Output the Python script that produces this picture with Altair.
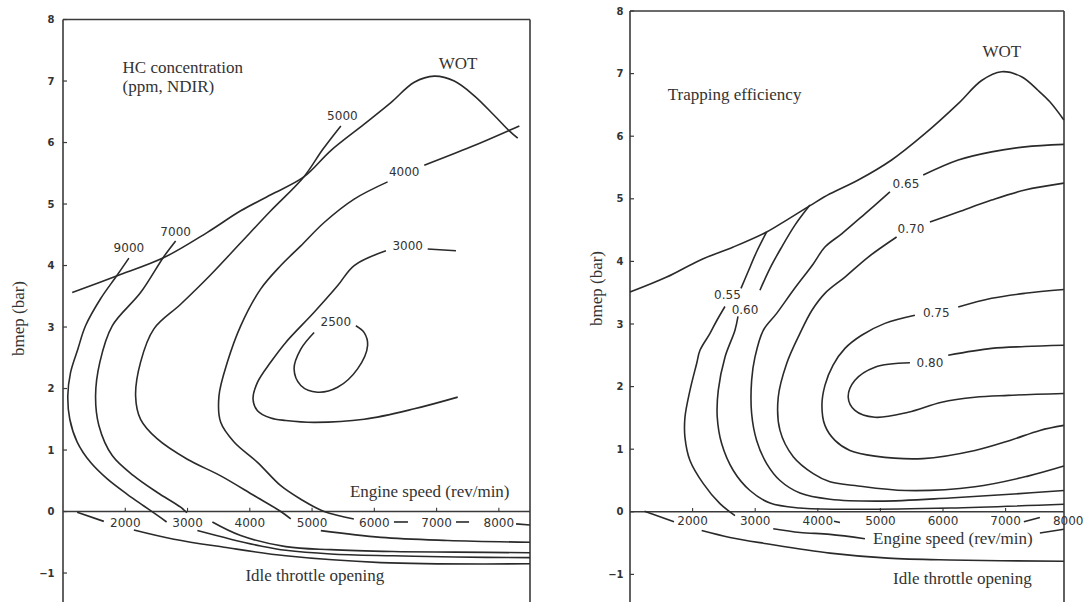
import altair as alt
import pandas as pd

# ---------------------------------------------------------------
# Left map: HC concentration (ppm, NDIR); engine speed rev/min vs bmep bar
# every entry is one drawn piece of a curve: (rpm values, bmep values)
# ---------------------------------------------------------------
HC_PIECES = {
    "wot": ([1148, 1860, 2621, 3319, 3854, 4337, 4867, 5301, 5837, 6266, 6641, 6963, 7284, 7606, 7927, 8168, 8303],
            [3.56, 3.83, 4.13, 4.54, 4.89, 5.15, 5.44, 5.87, 6.30, 6.65, 6.98, 7.08, 7.00, 6.76, 6.44, 6.19, 6.07]),
    "9000": ([2058, 1860, 1603, 1362, 1238, 1121, 1077, 1109, 1228, 1442, 1711, 2032, 2299, 2540, 2664],
             [4.12, 3.83, 3.46, 3.02, 2.64, 2.26, 1.88, 1.50, 1.13, 0.80, 0.53, 0.28, 0.09, -0.08, -0.17]),
    "9000_low": ([3158, 3693, 4176, 4578, 5300, 6300, 7300, 8500],
                 [-0.31, -0.45, -0.56, -0.63, -0.69, -0.72, -0.74, -0.75]),
    "7000": ([2809, 2616, 2246, 1791, 1592, 1523, 1576, 1791, 2138, 2515, 2889, 2990],
             [4.40, 4.14, 3.56, 3.02, 2.43, 1.88, 1.40, 0.91, 0.58, 0.31, 0.07, -0.02]),
    "7000_low": ([3399, 3854, 4578, 5300, 6300, 7300, 8500],
                 [-0.17, -0.39, -0.57, -0.62, -0.65, -0.66, -0.67]),
    "5000": ([5462, 5173, 4867, 4337, 3854, 3372, 2889, 2460, 2246, 2166, 2246, 2515, 2997, 3533, 4068, 4497, 4658],
             [6.27, 5.89, 5.44, 4.89, 4.37, 3.85, 3.37, 2.97, 2.43, 1.88, 1.50, 1.18, 0.85, 0.58, 0.26, 0.00, -0.12]),
    "5000_low": ([5141, 6105, 7178, 8500], [-0.31, -0.42, -0.47, -0.50]),
    "4000_right": ([6802, 7553, 8329], [5.63, 5.93, 6.27]),
    "4000": ([6213, 5676, 5194, 4819, 4497, 4176, 3854, 3640, 3505, 3533, 3747, 4123, 4497, 4819, 5194, 5671],
             [5.36, 5.08, 4.70, 4.32, 4.00, 3.62, 3.02, 2.43, 1.88, 1.45, 1.13, 0.80, 0.42, 0.20, 0.00, -0.12]),
    "4000_d1": ([6315, 6540], [-0.17, -0.17]),
    "4000_d2": ([7311, 7521], [-0.17, -0.17]),
    "4000_d3": ([8276, 8500], [-0.20, -0.22]),
    "3000_right": ([6857, 7311], [4.27, 4.24]),
    "3000": ([6186, 5676, 5409, 5033, 4578, 4337, 4123, 4052, 4123, 4337, 4578, 5033, 5837, 6641, 7339],
             [4.24, 4.00, 3.67, 3.24, 2.75, 2.43, 2.10, 1.83, 1.64, 1.52, 1.48, 1.45, 1.50, 1.67, 1.86]),
    "2500": ([5033, 4819, 4711, 4819, 5088, 5409, 5731, 5892, 5837, 5703],
             [2.91, 2.64, 2.32, 2.05, 1.94, 2.02, 2.32, 2.70, 2.91, 3.02]),
    "idle_a": ([1228, 1656], [-0.01, -0.16]),
    "idle_b": ([2138, 2782, 3586, 4578, 6105, 8500], [-0.30, -0.45, -0.58, -0.72, -0.83, -0.85]),
}
HC_LEVEL_TEXT = ["9000", "7000", "5000", "4000", "3000", "2500"]
HC_LEVEL_RPM = [2058, 2809, 5487, 6480, 6535, 5382]
HC_LEVEL_BMEP = [4.28, 4.55, 6.43, 5.52, 4.31, 3.08]

# ---------------------------------------------------------------
# Right map: trapping efficiency
# ---------------------------------------------------------------
TE_PIECES = {
    "wot": ([1000, 1586, 2118, 2650, 3183, 3502, 3875, 4194, 4646, 5179, 5711, 6243, 6617, 6936, 7255, 7521, 7707, 7931],
            [3.51, 3.75, 4.02, 4.23, 4.47, 4.66, 4.89, 5.08, 5.30, 5.62, 6.04, 6.52, 6.89, 7.03, 6.95, 6.73, 6.55, 6.26]),
    "0.55_top": ([3183, 3012, 2884, 2773], [4.47, 4.13, 3.83, 3.57]),
    "0.55": ([2517, 2389, 2278, 2118, 2065, 1958, 1878, 1878, 1958, 2171, 2437, 2677],
             [3.28, 3.06, 2.85, 2.58, 2.37, 1.94, 1.51, 1.19, 0.82, 0.45, 0.13, -0.06]),
    "0.55_low": ([3288, 3715, 4194, 4753], [-0.27, -0.33, -0.36, -0.43]),
    "0.55_end": ([7548, 7931], [-0.34, -0.28]),
    "0.60_top": ([3875, 3635, 3412, 3236, 3076], [4.90, 4.58, 4.21, 3.89, 3.54]),
    "0.60": ([2725, 2677, 2517, 2410, 2394, 2464, 2650, 2916, 3236, 3715, 4513, 6110, 7931],
             [3.12, 2.90, 2.47, 1.94, 1.51, 1.09, 0.66, 0.34, 0.14, 0.06, 0.04, 0.06, 0.12]),
    "0.65_right": ([5684, 6243, 6776, 7308, 7931], [5.38, 5.62, 5.75, 5.83, 5.87]),
    "0.65": ([5152, 4753, 4381, 4114, 3927, 3608, 3343, 3129, 2996, 2943, 2943, 3023, 3183, 3396, 3715, 4194, 4993, 6110, 7069, 7931],
             [5.11, 4.76, 4.44, 4.23, 3.96, 3.54, 3.17, 2.90, 2.47, 2.10, 1.57, 1.14, 0.77, 0.50, 0.30, 0.20, 0.17, 0.22, 0.28, 0.34]),
    "0.70_right": ([5791, 6243, 6776, 7308, 7931], [4.63, 4.79, 4.98, 5.14, 5.25]),
    "0.70": ([5259, 4806, 4434, 4114, 3907, 3715, 3503, 3368, 3396, 3608, 3927, 4194, 4593, 5408, 6510, 7356, 7931],
             [4.39, 4.07, 3.75, 3.49, 3.22, 2.85, 2.37, 1.83, 1.30, 0.88, 0.61, 0.48, 0.42, 0.34, 0.40, 0.57, 0.73]),
    "0.75_right": ([6243, 6776, 7308, 7931], [3.27, 3.41, 3.49, 3.55]),
    "0.75": ([5551, 5072, 4700, 4434, 4242, 4114, 4066, 4114, 4274, 4513, 4913, 5679, 6510, 7069, 7548, 7931],
             [3.14, 3.01, 2.82, 2.61, 2.34, 2.02, 1.70, 1.38, 1.14, 0.98, 0.89, 0.85, 0.98, 1.14, 1.30, 1.38]),
    "0.80_right": ([6083, 6776, 7308, 7931], [2.50, 2.61, 2.64, 2.66]),
    "0.80": ([5472, 4913, 4593, 4486, 4593, 4913, 5445, 5978, 6510, 7042, 7931],
             [2.38, 2.31, 2.10, 1.83, 1.62, 1.51, 1.59, 1.75, 1.83, 1.86, 1.89]),
    "idle_a": ([1232, 1703], [0.01, -0.16]),
    "idle_b": ([2145, 2597, 3183, 4194, 5120, 6110, 7931], [-0.30, -0.41, -0.51, -0.66, -0.74, -0.77, -0.79]),
    "dash_a": ([4258, 4354], [-0.15, -0.17]),
    "dash_b": ([7292, 7548], [-0.16, -0.09]),
}
TE_LEVEL_TEXT = ["0.55", "0.60", "0.65", "0.70", "0.75", "0.80"]
TE_LEVEL_RPM = [2557, 2837, 5408, 5488, 5892, 5791]
TE_LEVEL_BMEP = [3.46, 3.23, 5.24, 4.51, 3.18, 2.37]

SPEED_TICKS = [2000, 3000, 4000, 5000, 6000, 7000, 8000]
BMEP_TICKS = [-1, 0, 1, 2, 3, 4, 5, 6, 7, 8]

INK = "#2a2a2a"
SERIF = "Liberation Serif"
SANS = "DejaVu Sans"


def pieces_frame(pieces):
    rows = []
    for name, (rpm, bmep) in pieces.items():
        for i, (r, b) in enumerate(zip(rpm, bmep)):
            rows.append({"piece": name, "i": i, "rpm": r, "bmep": b})
    return pd.DataFrame(rows)


def panel(pieces, level_text, level_rpm, level_bmep, notes, wot_pos, speed_pos,
          idle_pos, tick_label_bmep, x_dom, y_dom, width, title_x, title_y, label_pad):
    xs = alt.Scale(domain=x_dom, nice=False, zero=False)
    ys = alt.Scale(domain=y_dom, nice=False, zero=False)
    y_axis = alt.Axis(values=BMEP_TICKS, ticks=False, domain=False, grid=False,
                      labelFont=SANS, labelFontSize=10, labelFontWeight="bold",
                      labelColor="#333", labelPadding=label_pad,
                      title="bmep (bar)", titleFont=SERIF, titleFontSize=17,
                      titleFontWeight="normal", titleColor="#333",
                      titleX=title_x, titleY=title_y, titleAngle=270,
                      titleAlign="center", titleBaseline="middle")

    def X(f="rpm"):
        return alt.X(f"{f}:Q", scale=xs, axis=None)

    def Y(f="bmep"):
        return alt.Y(f"{f}:Q", scale=ys, axis=y_axis)

    x0, x1 = x_dom
    frame = pd.DataFrame({
        "rpm": [x0, x1, x0, x0], "rpm2": [x0, x1, x1, x1],
        "bmep": [y_dom[0], y_dom[0], 8, 0], "bmep2": [8, 8, 8, 0],
    })
    frame_layer = alt.Chart(frame).mark_rule(color="#3a3a3a", strokeWidth=1.6).encode(
        x=X(), x2="rpm2:Q", y=Y(), y2="bmep2:Q")

    ytick_layer = alt.Chart(pd.DataFrame({"bmep": BMEP_TICKS})).mark_rule(
        color="#3a3a3a", strokeWidth=1.2).encode(
        x=alt.value(0), x2=alt.value(4), y=Y())

    speeds = [s for s in SPEED_TICKS if s < x1]
    xtick_layer = alt.Chart(pd.DataFrame({"rpm": speeds, "b0": 0.0, "b1": 0.06})).mark_rule(
        color="#3a3a3a", strokeWidth=1.1).encode(x=X(), y=Y("b0"), y2="b1:Q")

    xlab_layer = alt.Chart(pd.DataFrame({"rpm": SPEED_TICKS, "bmep": tick_label_bmep,
                                         "t": [str(s) for s in SPEED_TICKS]})).mark_text(
        font=SANS, fontSize=12, color="#333", align="center", baseline="middle").encode(
        x=X(), y=Y(), text="t:N")

    curves = alt.Chart(pieces_frame(pieces)).mark_line(
        interpolate="catmull-rom", color=INK, strokeWidth=1.6).encode(
        x=X(), y=Y(), detail="piece:N", order="i:Q")

    level_layer = alt.Chart(pd.DataFrame({"rpm": level_rpm, "bmep": level_bmep,
                                          "t": level_text})).mark_text(
        font=SANS, fontSize=12, color="#333", align="center", baseline="middle").encode(
        x=X(), y=Y(), text="t:N")

    note_layer = alt.Chart(pd.DataFrame(notes)).mark_text(
        font=SERIF, fontSize=17, color="#333", align="left", baseline="middle").encode(
        x=X(), y=Y(), text="t:N")

    centred = pd.DataFrame([
        {"t": "WOT", "rpm": wot_pos[0], "bmep": wot_pos[1]},
        {"t": "Engine speed (rev/min)", "rpm": speed_pos[0], "bmep": speed_pos[1]},
        {"t": "Idle throttle opening", "rpm": idle_pos[0], "bmep": idle_pos[1]},
    ])
    centred_layer = alt.Chart(centred).mark_text(
        font=SERIF, fontSize=17, color="#333", align="center", baseline="middle").encode(
        x=X(), y=Y(), text="t:N")

    return alt.layer(frame_layer, ytick_layer, xtick_layer, curves, xlab_layer,
                     level_layer, note_layer, centred_layer).properties(width=width, height=596)


left = panel(
    HC_PIECES, HC_LEVEL_TEXT, HC_LEVEL_RPM, HC_LEVEL_BMEP,
    notes=[{"t": "HC concentration", "rpm": 1957, "bmep": 7.22},
           {"t": "(ppm, NDIR)", "rpm": 1957, "bmep": 6.91}],
    wot_pos=(7346, 7.28), speed_pos=(6890, 0.32), idle_pos=(5044, -1.05),
    tick_label_bmep=[-0.18] * 7,
    x_dom=[1000, 8500], y_dom=[-1.471, 8.22], width=467,
    title_x=-45, title_y=312, label_pad=9,
)

right = panel(
    TE_PIECES, TE_LEVEL_TEXT, TE_LEVEL_RPM, TE_LEVEL_BMEP,
    notes=[{"t": "Trapping efficiency", "rpm": 1604, "bmep": 6.66}],
    wot_pos=(6941, 7.35), speed_pos=(6158, -0.43), idle_pos=(6310, -1.07),
    tick_label_bmep=[-0.145] * 7,
    x_dom=[1000, 7933], y_dom=[-1.441, 8.08], width=434,
    title_x=-34, title_y=282, label_pad=7,
)

chart = alt.hconcat(left, right, spacing=100, bounds="flush").properties(
    padding={"left": 9, "top": 6, "right": 0, "bottom": 0},
    background="white",
).configure_view(stroke=None)

chart.save("out.html", embed_options={"renderer": "svg", "actions": False})
